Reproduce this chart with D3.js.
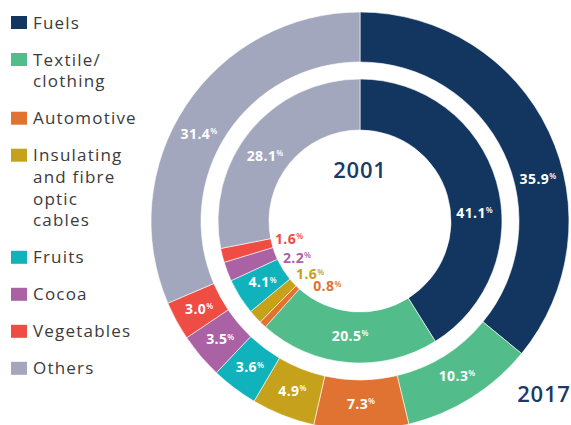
<!DOCTYPE html>
<html>
<head>
<meta charset="utf-8">
<script src="https://cdn.jsdelivr.net/npm/d3@7"></script>
<style>
  body { margin: 0; background: #fff; }
  svg { display: block; }
  .leg { font-family: "Open Sans", sans-serif; font-size: 17px; letter-spacing: 1.2px; fill: #3b3b3b; }
  .lbl { font-family: "Open Sans", sans-serif; font-weight: 700; font-size: 14px; letter-spacing: 0.4px; }
</style>
</head>
<body>
<div id="idChart"></div>
<script>
// data
var categories = ["Fuels", "Textile/clothing", "Automotive", "Insulating and fibre optic cables",
                  "Fruits", "Cocoa", "Vegetables", "Others"];
var legendLines = [["Fuels"], ["Textile/", "clothing"], ["Automotive"],
                   ["Insulating", "and fibre", "optic", "cables"],
                   ["Fruits"], ["Cocoa"], ["Vegetables"], ["Others"]];
var colors = ["#133660", "#52bd8a", "#e07232", "#c5a11c", "#10b3bb", "#ab62a5", "#ef4c43", "#a3a7bd"];
var share2017 = [35.9, 10.3, 7.3, 4.9, 3.6, 3.5, 3.0, 31.4];
var share2001 = [41.1, 20.5, 0.8, 1.6, 4.1, 2.2, 1.6, 28.1];

var iWidth = 571, iHeight = 425;
var cx = 360, cy = 221;

// label angle tweaks (degrees) so the big labels sit like the original
var labelNudge = {"Fuels": 12, "Others": -5};

var svg = d3.select("#idChart").append("svg")
    .attr("width", iWidth).attr("height", iHeight);

var pie = d3.pie().sort(null).value(function(d) { return d.v; });

function rows(values) {
    return values.map(function(v, i) { return {cat: categories[i], v: v, color: colors[i]}; });
}

function pctLabel(g, x, y, v, fill) {
    var t = g.append("text")
        .attr("class", "lbl")
        .attr("x", x).attr("y", y)
        .attr("dy", "0.36em")
        .attr("text-anchor", "middle")
        .attr("fill", fill);
    t.append("tspan").text(v.toFixed(1));
    t.append("tspan").attr("font-size", "8px").attr("font-weight", 600).attr("dy", "-0.6em").text("%");
}

function polar(r, a) {
    return [Math.sin(a) * r, -Math.cos(a) * r];
}

function drawRing(values, rIn, rOut, rLabel, smallInside) {
    var g = svg.append("g").attr("transform", "translate(" + cx + "," + cy + ")");
    var arc = d3.arc().innerRadius(rIn).outerRadius(rOut);
    var arcs = pie(rows(values));

    g.selectAll("path").data(arcs).enter().append("path")
        .attr("d", arc)
        .attr("fill", function(d) { return d.data.color; })
        .attr("stroke", "#fff")
        .attr("stroke-width", 0.6);

    var small = [];
    arcs.forEach(function(d) {
        var mid = (d.startAngle + d.endAngle) / 2;
        if (smallInside && d.data.v < 3) {
            small.push({d: d, a: mid});
            return;
        }
        var a = mid + (labelNudge[d.data.cat] || 0) * Math.PI / 180;
        var p = polar(rLabel, a);
        pctLabel(g, p[0], p[1], d.data.v, "#fff");
    });

    // tiny slices: coloured labels inside the hole, spread apart
    small.sort(function(a, b) { return b.a - a.a; });
    var gap = 16.5 * Math.PI / 180;
    for (var i = 1; i < small.length; i++) {
        small[i].a = Math.min(small[i].a, small[i - 1].a - gap);
    }
    small.forEach(function(s) {
        var p = polar(73, s.a);
        pctLabel(g, p[0], p[1], s.d.data.v, s.d.data.color);
    });
}

drawRing(share2017, 159, 209, 183, false);
drawRing(share2001, 91, 142, 115, true);

// year captions
svg.append("text")
    .attr("x", cx).attr("y", 178)
    .attr("text-anchor", "middle")
    .attr("font-family", "Open Sans, sans-serif")
    .attr("font-size", "22px").attr("font-weight", 600)
    .attr("letter-spacing", "0.8px")
    .attr("fill", "#1b3a63")
    .text("2001");

svg.append("text")
    .attr("x", 544).attr("y", 402)
    .attr("text-anchor", "middle")
    .attr("font-family", "Open Sans, sans-serif")
    .attr("font-size", "22px").attr("font-weight", 600)
    .attr("letter-spacing", "0.8px")
    .attr("fill", "#1b3a63")
    .text("2017");

// legend
var lineH = 21.7, rowH = 37;
var yTop = 16;
legendLines.forEach(function(lines, i) {
    var lg = svg.append("g").attr("transform", "translate(11," + yTop + ")");
    lg.append("rect")
        .attr("width", 16).attr("height", 13)
        .attr("fill", colors[i]);
    lines.forEach(function(s, j) {
        lg.append("text")
            .attr("class", "leg")
            .attr("x", 22).attr("y", 12.5 + j * lineH)
            .text(s);
    });
    yTop += rowH + (lines.length - 1) * lineH;
});
</script>
</body>
</html>
